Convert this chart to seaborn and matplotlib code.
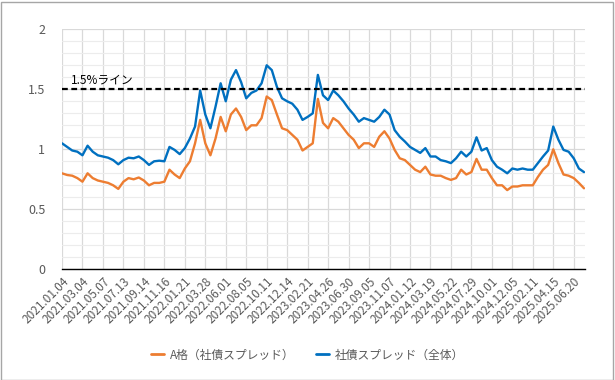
import matplotlib
matplotlib.use("Agg")
import matplotlib.pyplot as plt
import numpy as np
import pandas as pd
import seaborn as sns
from matplotlib.lines import Line2D
from matplotlib.patches import Rectangle
from matplotlib.ticker import MultipleLocator, FixedLocator, FuncFormatter

# ---- data -----------------------------------------------------------------
tick_labels = [
    "2021.01.04", "2021.03.04", "2021.05.07", "2021.07.13", "2021.09.14", "2021.11.16",
    "2022.01.21", "2022.03.28", "2022.06.01", "2022.08.05", "2022.10.11", "2022.12.14",
    "2023.02.21", "2023.04.26", "2023.06.30", "2023.09.05", "2023.11.07",
    "2024.01.12", "2024.03.19", "2024.05.22", "2024.07.29", "2024.10.01", "2024.12.05",
    "2025.02.11", "2025.04.15", "2025.06.20",
]
samples_per_label = 4

a_grade = [
    0.80, 0.786, 0.78, 0.76, 0.73, 0.80, 0.76, 0.74, 0.73, 0.72,
    0.70, 0.67, 0.73, 0.76, 0.75, 0.765, 0.74, 0.70, 0.72, 0.72,
    0.73, 0.83, 0.79, 0.76, 0.84, 0.90, 1.05, 1.245, 1.05, 0.95,
    1.09, 1.27, 1.15, 1.29, 1.34, 1.27, 1.16, 1.20, 1.20, 1.26,
    1.44, 1.41, 1.29, 1.175, 1.16, 1.12, 1.08, 0.99, 1.02, 1.05,
    1.42, 1.22, 1.175, 1.26, 1.23, 1.175, 1.12, 1.08, 1.01, 1.05,
    1.05, 1.02, 1.105, 1.15, 1.09, 0.995, 0.925, 0.91, 0.87, 0.83,
    0.81, 0.855, 0.79, 0.78, 0.78, 0.76, 0.745, 0.76, 0.83, 0.79,
    0.81, 0.92, 0.83, 0.83, 0.76, 0.70, 0.70, 0.66, 0.69, 0.69,
    0.70, 0.70, 0.70, 0.77, 0.83, 0.87, 1.00, 0.885, 0.79, 0.78,
    0.76, 0.72, 0.675,
]
overall = [
    1.05, 1.02, 0.99, 0.98, 0.95, 1.03, 0.98, 0.95, 0.94, 0.93,
    0.91, 0.875, 0.91, 0.93, 0.925, 0.94, 0.91, 0.87, 0.90, 0.905,
    0.90, 1.02, 0.995, 0.96, 1.01, 1.09, 1.19, 1.49, 1.29, 1.175,
    1.355, 1.55, 1.40, 1.58, 1.66, 1.56, 1.425, 1.47, 1.49, 1.55,
    1.70, 1.66, 1.52, 1.425, 1.40, 1.38, 1.33, 1.245, 1.27, 1.30,
    1.62, 1.45, 1.41, 1.49, 1.45, 1.40, 1.34, 1.29, 1.23, 1.26,
    1.245, 1.23, 1.27, 1.33, 1.29, 1.16, 1.105, 1.065, 1.02, 0.995,
    0.97, 1.01, 0.94, 0.94, 0.91, 0.90, 0.885, 0.925, 0.98, 0.94,
    0.98, 1.10, 0.99, 1.01, 0.91, 0.855, 0.83, 0.80, 0.84, 0.83,
    0.84, 0.83, 0.83, 0.885, 0.94, 0.99, 1.19, 1.08, 0.995, 0.98,
    0.925, 0.84, 0.81,
]
series_names = ["A格（社債スプレッド）", "社債スプレッド（全体）"]
series_colors = ["#ED7D31", "#0070C0"]
ref_level = 1.5
ref_label = "1.5%ライン"
y_ticks = [0, 0.5, 1, 1.5, 2]

# ---- style ----------------------------------------------------------------
sns.set_theme(style="white")
plt.rcParams["font.family"] = ["Noto Sans CJK JP", "DejaVu Sans"]
text_color = "#595959"

n = len(a_grade)
df = pd.DataFrame({
    "obs": list(range(n)) * 2,
    "spread": a_grade + overall,
    "series": [series_names[0]] * n + [series_names[1]] * n,
})

fig = plt.figure(figsize=(6.15, 3.8), dpi=100)
ax = fig.add_axes([62 / 615, 1 - 269.3 / 380, (585 - 62) / 615, (269.3 - 29.3) / 380])

sns.lineplot(data=df, x="obs", y="spread", hue="series", hue_order=series_names,
             palette=series_colors, linewidth=1.7, ax=ax, legend=False, zorder=3)

ax.axhline(ref_level, color="black", linewidth=1.6, linestyle=(0, (2.6, 1.6)), zorder=4)
ax.text(1.8, ref_level + 0.02, ref_label, fontsize=8.5, color="black",
        ha="left", va="bottom", zorder=5)

ax.set_xlim(0, n - 1 + 0.2)
ax.set_ylim(0, 2)
tick_pos = [i * samples_per_label for i in range(len(tick_labels))]
ax.xaxis.set_major_locator(FixedLocator(tick_pos))
ax.set_xticklabels(tick_labels, rotation=45, ha="right", rotation_mode="anchor",
                   fontsize=8.5, color=text_color)
ax.set_yticks(y_ticks)
ax.yaxis.set_major_formatter(FuncFormatter(lambda v, p: f"{v:g}"))
ax.yaxis.set_minor_locator(MultipleLocator(0.1))
ax.tick_params(axis="y", labelsize=9, colors=text_color, length=0, pad=12)
ax.tick_params(axis="x", length=0, pad=4)
ax.tick_params(axis="y", which="minor", length=0)

ax.grid(True, which="major", axis="both", color="#d9d9d9", linewidth=0.9, zorder=0)
ax.grid(True, which="minor", axis="y", color="#ececec", linewidth=0.8, zorder=0)
ax.set_axisbelow(True)
ax.set_xlabel("")
ax.set_ylabel("")
for side in ["top", "right", "left"]:
    ax.spines[side].set_visible(False)
ax.spines["bottom"].set_color("black")
ax.spines["bottom"].set_linewidth(1.0)

handles = [Line2D([], [], color=c, linewidth=2) for c in series_colors]
fig.legend(handles, series_names, loc="center", bbox_to_anchor=(0.5, 1 - 355 / 380),
           ncol=2, frameon=False, fontsize=8.5, handlelength=1.1, handletextpad=0.5,
           columnspacing=1.8, labelcolor=text_color)

fig.add_artist(Rectangle((0.5 / 615, 0.5 / 380), 612 / 615, 378 / 380,
                         transform=fig.transFigure, fill=False,
                         edgecolor="#a6a6a6", linewidth=1.0))

fig.savefig("out.png", dpi=100, facecolor="white")
